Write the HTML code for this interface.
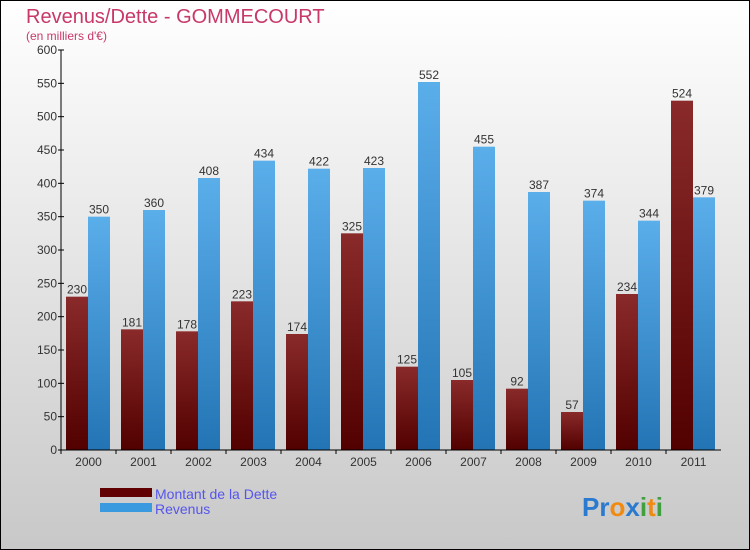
<!DOCTYPE html>
<html><head><meta charset="utf-8"><style>
body{margin:0}
svg{display:block;font-family:"Liberation Sans",sans-serif}
</style></head><body>
<svg width="750" height="550" viewBox="0 0 750 550">
<defs>
<linearGradient id="bg" x1="0" y1="0" x2="0" y2="1"><stop offset="0" stop-color="#ffffff"/><stop offset="1" stop-color="#c8c8c8"/></linearGradient>
<linearGradient id="gd" x1="0" y1="0" x2="0" y2="1"><stop offset="0" stop-color="#8a2a2a"/><stop offset="1" stop-color="#520000"/></linearGradient>
<linearGradient id="gr" x1="0" y1="0" x2="0" y2="1"><stop offset="0" stop-color="#5aaeea"/><stop offset="1" stop-color="#2374b4"/></linearGradient>
</defs>
<rect x="0.5" y="0.5" width="749" height="549" fill="url(#bg)" stroke="#000"/>
<text x="26" y="23" font-size="20" fill="#c8386a">Revenus/Dette - GOMMECOURT</text>
<text x="26" y="40" font-size="12" fill="#c8386a">(en milliers d'€)</text>
<g id="plot"></g>
<g>
<rect x="100" y="488" width="52" height="9" fill="#600000"/>
<text x="155" y="499" font-size="14" fill="#5555ee">Montant de la Dette</text>
<rect x="100" y="503" width="52" height="9" fill="#3a9ae0"/>
<text x="155" y="514" font-size="14" fill="#5555ee">Revenus</text>
</g>
<text x="582" y="516" font-size="26" font-weight="bold"><tspan fill="#2a7ad0">Pr</tspan><tspan fill="#f08a10">o</tspan><tspan fill="#2a7ad0">x</tspan><tspan fill="#40a040">i</tspan><tspan fill="#f08a10">t</tspan><tspan fill="#40a040">i</tspan></text>
</svg>
<script>
const years=["2000","2001","2002","2003","2004","2005","2006","2007","2008","2009","2010","2011"];
const dette=[230,181,178,223,174,325,125,105,92,57,234,524];
const revenus=[350,360,408,434,422,423,552,455,387,374,344,379];
const yTicks=[0,50,100,150,200,250,300,350,400,450,500,550,600];
const NS="http://www.w3.org/2000/svg";
const g=document.getElementById('plot');
const x0=61,x1=721,y0=450,y1=50,yMax=600;
const gw=(x1-x0)/years.length;
function y(v){return y0-(v/yMax)*(y0-y1);}
function mk(t,a,txt){const e=document.createElementNS(NS,t);for(const k in a)e.setAttribute(k,a[k]);if(txt!==undefined)e.textContent=txt;g.appendChild(e);return e;}
years.forEach((yr,i)=>{
 const gx=x0+i*gw;
 const bd=mk('rect',{x:gx+5,y:y(dette[i]),width:22,height:y0-y(dette[i]),fill:'url(#gd)'});
 
 
 const br=mk('rect',{x:gx+27,y:y(revenus[i]),width:22,height:y0-y(revenus[i]),fill:'url(#gr)'});
 
 
 const ld=mk('text',{x:gx+16,y:y(dette[i])-3,'font-size':12,'text-anchor':'middle',fill:'#333'},dette[i]);
 
 
 const lr=mk('text',{x:gx+38,y:y(revenus[i])-3,'font-size':12,'text-anchor':'middle',fill:'#333'},revenus[i]);
 
 
 const xl=mk('text',{x:gx+gw/2,y:466,'font-size':12,'text-anchor':'middle',fill:'#333'},yr);
 
 
 mk('line',{x1:gx,y1:y0,x2:gx,y2:y0+4,stroke:'#000'});
});
yTicks.forEach(v=>{
 mk('line',{x1:x0-3,y1:y(v),x2:x0+3,y2:y(v),stroke:'#000'});
 const t=mk('text',{x:x0-4,y:y(v)+4,'font-size':12,'text-anchor':'end',fill:'#333'},v);
 
 
});
const ya=mk('line',{x1:x0,y1:y1,x2:x0,y2:y0,stroke:'#000'});


const xa=mk('line',{x1:x0,y1:y0,x2:x1,y2:y0,stroke:'#000'});


</script>
</body></html>
